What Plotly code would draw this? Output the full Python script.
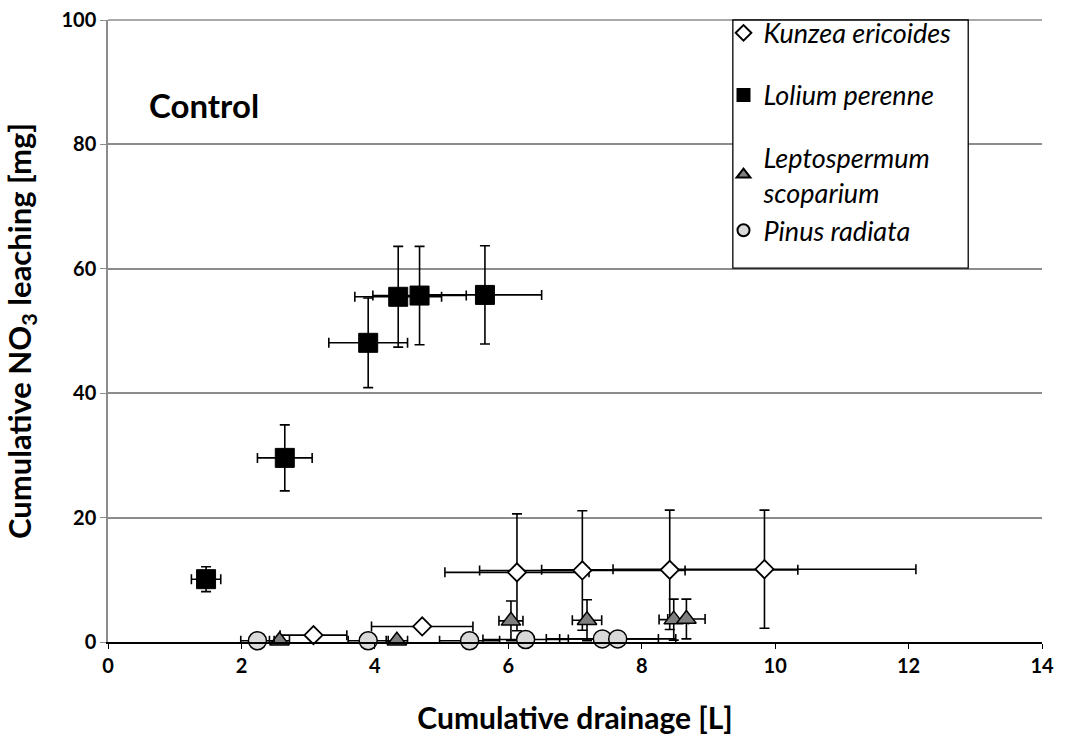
import plotly.graph_objects as go

# ---- data ----
kunzea_x = [3.08, 4.71, 6.13, 7.11, 8.42, 9.84]
kunzea_y = [1.1, 2.5, 11.2, 11.5, 11.6, 11.7]
kunzea_xerr = [0.50, 0.76, 1.08, 1.54, 1.92, 2.27]
kunzea_yerr = [0.3, 0.5, 9.4, 9.6, 9.6, 9.5]

lolium_x = [1.47, 2.65, 3.90, 4.35, 4.67, 5.65]
lolium_y = [10.1, 29.6, 48.1, 55.5, 55.7, 55.8]
lolium_xerr = [0.22, 0.41, 0.59, 0.65, 0.70, 0.85]
lolium_yerr = [2.0, 5.3, 7.2, 8.1, 7.9, 7.9]

lepto_x = [2.57, 4.33, 6.04, 7.18, 8.48, 8.67]
lepto_y = [0.2, 0.2, 3.4, 3.5, 3.6, 3.7]
lepto_xerr = [0.15, 0.16, 0.18, 0.22, 0.22, 0.28]
lepto_yerr = [0.1, 0.1, 3.2, 3.3, 3.3, 3.2]

pinus_x = [2.24, 3.90, 5.42, 6.26, 7.41, 7.64]
pinus_y = [0.2, 0.2, 0.2, 0.4, 0.5, 0.5]
pinus_xerr = [0.25, 0.30, 0.45, 0.64, 0.84, 0.87]
pinus_yerr = [0.1, 0.1, 0.1, 0.2, 0.2, 0.2]

x_ticks = [0, 2, 4, 6, 8, 10, 12, 14]
y_ticks = [0, 20, 40, 60, 80, 100]

FONT = "Lato, Carlito, 'Liberation Sans', sans-serif"
GRID = "#8c8c8c"

def err(arr):
    return dict(type="data", array=arr, visible=True, color="black",
                thickness=1.6, width=5)

fig = go.Figure()

series = [
    ("Kunzea ericoides", kunzea_x, kunzea_y, kunzea_xerr, kunzea_yerr,
     dict(symbol="diamond", size=14, color="white", line=dict(color="black", width=1.8)), "g1"),
    ("Lolium perenne", lolium_x, lolium_y, lolium_xerr, lolium_yerr,
     dict(symbol="square", size=19, color="black", line=dict(color="black", width=1)), "g2"),
    ("Leptospermum<br>scoparium", lepto_x, lepto_y, lepto_xerr, lepto_yerr,
     dict(symbol="triangle-up", size=17, color="#7f7f7f", line=dict(color="black", width=1.5)), "g3"),
    ("Pinus radiata", pinus_x, pinus_y, pinus_xerr, pinus_yerr,
     dict(symbol="circle", size=18, color="#d9d9d9", line=dict(color="black", width=1.5)), "g3"),
]

for name, x, y, xe, ye, mk, grp in series:
    fig.add_trace(go.Scatter(
        x=x, y=y, mode="markers", name=name, marker=mk,
        error_x=err(xe), error_y=err(ye), legendgroup=grp,
        cliponaxis=False,
    ))

# top gridline (y = 100) sits on the plot edge
fig.add_shape(type="line", xref="paper", yref="paper", x0=0, x1=1, y0=1, y1=1,
              line=dict(color=GRID, width=1.5), layer="below")

# legend frame
fig.add_shape(type="rect", xref="paper", yref="paper",
              x0=0.669, x1=0.921, y0=0.601, y1=1.0,
              line=dict(color="black", width=1.3), fillcolor="white", layer="above")

fig.add_annotation(text="<b>Control</b>", xref="paper", yref="paper",
                   x=0.042, y=0.863, xanchor="left", yanchor="middle",
                   showarrow=False, font=dict(size=33, color="black", family=FONT))

fig.update_layout(
    width=1065, height=735,
    margin=dict(l=108, r=23, t=20, b=93, autoexpand=False),
    paper_bgcolor="white", plot_bgcolor="white",
    font=dict(family=FONT, color="black"),
    showlegend=True,
    legend=dict(x=0.659, y=1.018, xanchor="left", yanchor="top",
                bgcolor="rgba(0,0,0,0)", borderwidth=0,
                font=dict(size=27, style="italic", family=FONT, color="black"),
                tracegroupgap=24, traceorder="grouped", itemsizing="constant"),
    xaxis=dict(range=[0, 14], tickvals=x_ticks, ticktext=[str(v) for v in x_ticks],
               showgrid=False, zeroline=False, automargin=False,
               showline=True, linecolor="black", linewidth=2,
               ticks="outside", ticklen=5, tickcolor="black",
               ticklabeloverflow="allow",
               tickfont=dict(size=20, weight="bold", family=FONT),
               title=dict(text="<b>Cumulative drainage [L]</b>", standoff=34,
                          font=dict(size=30, family=FONT))),
    yaxis=dict(range=[0, 100], tickvals=y_ticks, ticktext=[str(v) for v in y_ticks],
               showgrid=True, gridcolor=GRID, gridwidth=1.5, zeroline=False,
               automargin=False,
               showline=True, linecolor=GRID, linewidth=1.5,
               ticks="outside", ticklen=6, tickcolor=GRID,
               ticklabeloverflow="allow",
               tickfont=dict(size=20, weight="bold", family=FONT),
               title=dict(text="<b>Cumulative NO<sub>3</sub> leaching [mg]</b>", standoff=27,
                          font=dict(size=31, family=FONT))),
)

fig.write_html("out.html", config={"displayModeBar": False},
               post_script="document.body.style.margin='0';document.body.style.overflow='hidden';")
